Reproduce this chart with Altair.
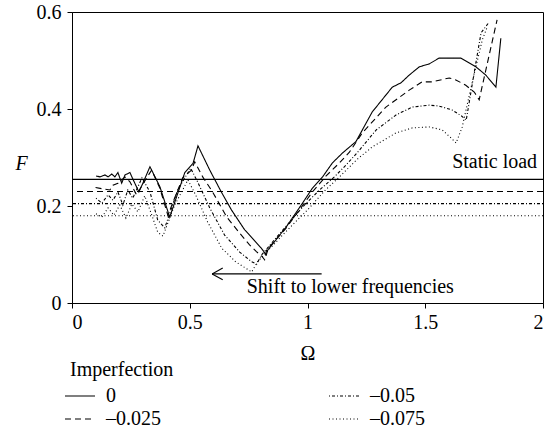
import altair as alt
import pandas as pd

# Imperfection levels
series = ["0", "–0.025", "–0.05", "–0.075"]

# Static load level for each imperfection
static_load = [0.255, 0.23, 0.205, 0.18]

# Frequency response curves, F against Omega
omega_0 = [0.102, 0.119, 0.140, 0.153, 0.169, 0.182, 0.195, 0.211, 0.225, 0.246, 0.258, 0.284,
           0.301, 0.331, 0.373, 0.415, 0.479, 0.514, 0.535, 0.585, 0.634, 0.677, 0.733, 0.754,
           0.804, 0.825, 0.831, 0.910, 0.979, 1.021, 1.064, 1.106, 1.148, 1.206, 1.275, 1.360,
           1.397, 1.432, 1.475, 1.517, 1.559, 1.651, 1.715, 1.757, 1.800, 1.821]
force_0 = [0.262, 0.260, 0.264, 0.260, 0.266, 0.260, 0.269, 0.247, 0.264, 0.269, 0.256, 0.229,
           0.247, 0.281, 0.240, 0.177, 0.269, 0.288, 0.324, 0.274, 0.229, 0.192, 0.151, 0.140,
           0.113, 0.099, 0.109, 0.157, 0.206, 0.237, 0.260, 0.289, 0.309, 0.333, 0.394, 0.445,
           0.454, 0.470, 0.487, 0.493, 0.505, 0.505, 0.487, 0.470, 0.445, 0.546]

omega_025 = [0.100, 0.136, 0.161, 0.174, 0.195, 0.225, 0.246, 0.274, 0.317, 0.338, 0.373, 0.407,
             0.470, 0.507, 0.521, 0.555, 0.597, 0.656, 0.712, 0.754, 0.783, 0.805, 0.818, 0.826,
             0.910, 0.966, 1.021, 1.079, 1.136, 1.178, 1.233, 1.333, 1.376, 1.432, 1.487, 1.530,
             1.602, 1.630, 1.672, 1.708, 1.729, 1.805]
force_025 = [0.238, 0.235, 0.233, 0.243, 0.247, 0.260, 0.250, 0.223, 0.258, 0.274, 0.237, 0.181,
             0.258, 0.274, 0.291, 0.260, 0.229, 0.178, 0.144, 0.120, 0.106, 0.097, 0.089, 0.109,
             0.155, 0.192, 0.229, 0.262, 0.289, 0.311, 0.351, 0.404, 0.419, 0.439, 0.456, 0.456,
             0.464, 0.460, 0.449, 0.435, 0.419, 0.584]

omega_05 = [0.102, 0.127, 0.153, 0.174, 0.195, 0.216, 0.237, 0.258, 0.297, 0.331, 0.364, 0.394,
            0.449, 0.479, 0.504, 0.534, 0.585, 0.648, 0.712, 0.763, 0.784, 0.805, 0.903, 0.987,
            1.051, 1.114, 1.165, 1.220, 1.292, 1.377, 1.445, 1.517, 1.559, 1.614, 1.653, 1.674,
            1.712, 1.737, 1.771]
force_05 = [0.216, 0.206, 0.223, 0.212, 0.229, 0.202, 0.233, 0.216, 0.258, 0.229, 0.171, 0.155,
            0.233, 0.258, 0.278, 0.249, 0.196, 0.140, 0.105, 0.085, 0.080, 0.099, 0.155, 0.202,
            0.233, 0.260, 0.285, 0.315, 0.357, 0.388, 0.404, 0.408, 0.406, 0.398, 0.386, 0.377,
            0.487, 0.557, 0.579]

omega_075 = [0.102, 0.127, 0.153, 0.178, 0.203, 0.229, 0.254, 0.280, 0.309, 0.339, 0.364, 0.386,
             0.436, 0.470, 0.492, 0.525, 0.576, 0.636, 0.695, 0.763, 0.788, 0.894, 1.008, 1.076,
             1.136, 1.208, 1.275, 1.377, 1.445, 1.517, 1.572, 1.610, 1.631, 1.657, 1.699, 1.742,
             1.763]
force_075 = [0.184, 0.177, 0.196, 0.181, 0.202, 0.175, 0.204, 0.188, 0.221, 0.181, 0.146, 0.138,
             0.202, 0.233, 0.254, 0.223, 0.167, 0.113, 0.085, 0.064, 0.085, 0.140, 0.196, 0.233,
             0.260, 0.295, 0.322, 0.351, 0.361, 0.363, 0.357, 0.340, 0.330, 0.363, 0.454, 0.542,
             0.569]

curve_rows = []
for name, xs, ys in zip(series,
                        [omega_0, omega_025, omega_05, omega_075],
                        [force_0, force_025, force_05, force_075]):
    for i, (x, y) in enumerate(zip(xs, ys)):
        curve_rows.append({"imperfection": name, "omega": x, "F": y, "idx": i})
curves = pd.DataFrame(curve_rows)
statics = pd.DataFrame({"imperfection": series, "F": static_load})

FONT = "'Liberation Serif', 'Times New Roman', Times, 'DejaVu Serif', Georgia, serif"

# solid, dashed, dash-dot, dotted
dash_scale = alt.Scale(domain=series,
                       range=[[1, 0], [6, 4], [1, 2, 3, 2], [1, 2.5]])

x_enc = alt.X("omega:Q", scale=alt.Scale(domain=[0, 2], nice=False),
              axis=alt.Axis(title="Ω", values=[0, 0.5, 1, 1.5, 2], format="~g",
                            titlePadding=11, labelPadding=4))
y_enc = alt.Y("F:Q", scale=alt.Scale(domain=[0, 0.6], nice=False),
              axis=alt.Axis(title="F", values=[0, 0.2, 0.4, 0.6], format="~g",
                            titleAngle=0, titleFontStyle="italic", titleX=-51, titleY=151,
                            titleAlign="center", titleBaseline="middle", labelPadding=6))

# Short stroke symbol drawn wider than its layout box, so labels are pushed right
legend = alt.Legend(title="Imperfection", orient="none", legendX=-2, legendY=348,
                    columns=2, columnPadding=165, rowPadding=3,
                    symbolType="M-3,0H3", symbolSize=100, symbolStrokeWidth=1.1,
                    symbolStrokeColor="black", symbolFillColor="transparent", labelOffset=16,
                    labelFont=FONT, labelFontSize=20, labelColor="black",
                    titleFont=FONT, titleFontSize=20, titleFontWeight="normal",
                    titleColor="black", titlePadding=6)

lines = alt.Chart(curves).mark_line(color="black", strokeWidth=1.1).encode(
    x=x_enc, y=y_enc,
    strokeDash=alt.StrokeDash("imperfection:N", scale=dash_scale, legend=legend),
    order="idx:Q",
)

static_rules = alt.Chart(statics).mark_rule(color="black", strokeWidth=1.1).encode(
    y="F:Q",
    strokeDash=alt.StrokeDash("imperfection:N", scale=dash_scale, legend=legend),
)

static_label = alt.Chart(pd.DataFrame({"t": ["Static load"]})).mark_text(
    font=FONT, fontSize=20, align="right", baseline="middle", color="black"
).encode(x=alt.datum(1.975), y=alt.datum(0.29), text="t:N")

shift_label = alt.Chart(pd.DataFrame({"t": ["Shift to lower frequencies"]})).mark_text(
    font=FONT, fontSize=20, align="left", baseline="middle", color="black"
).encode(x=alt.datum(0.742), y=alt.datum(0.034), text="t:N")

# Arrow: shaft plus two strokes forming an open head
arrow = pd.DataFrame({
    "omega": [1.06, 0.595, 0.595],
    "omega2": [0.595, 0.64, 0.64],
    "F": [0.06, 0.06, 0.06],
    "F2": [0.06, 0.072, 0.048],
})
arrow_marks = alt.Chart(arrow).mark_rule(color="black", strokeWidth=1.1).encode(
    x="omega:Q", x2="omega2:Q", y="F:Q", y2="F2:Q"
)

chart = alt.layer(static_rules, lines, static_label, shift_label, arrow_marks).properties(
    width=471, height=291,
    autosize=alt.AutoSizeParams(type="none"),
    padding={"left": 72, "top": 12, "right": 1, "bottom": 129},
).configure_view(
    stroke="black", strokeWidth=1
).configure_axis(
    grid=False, domainColor="black", tickColor="black", tickSize=5,
    labelFont=FONT, labelFontSize=20, labelColor="black",
    titleFont=FONT, titleFontSize=20, titleFontWeight="normal", titleColor="black",
)

chart.save("out.html", embed_options={"renderer": "svg", "actions": False})
